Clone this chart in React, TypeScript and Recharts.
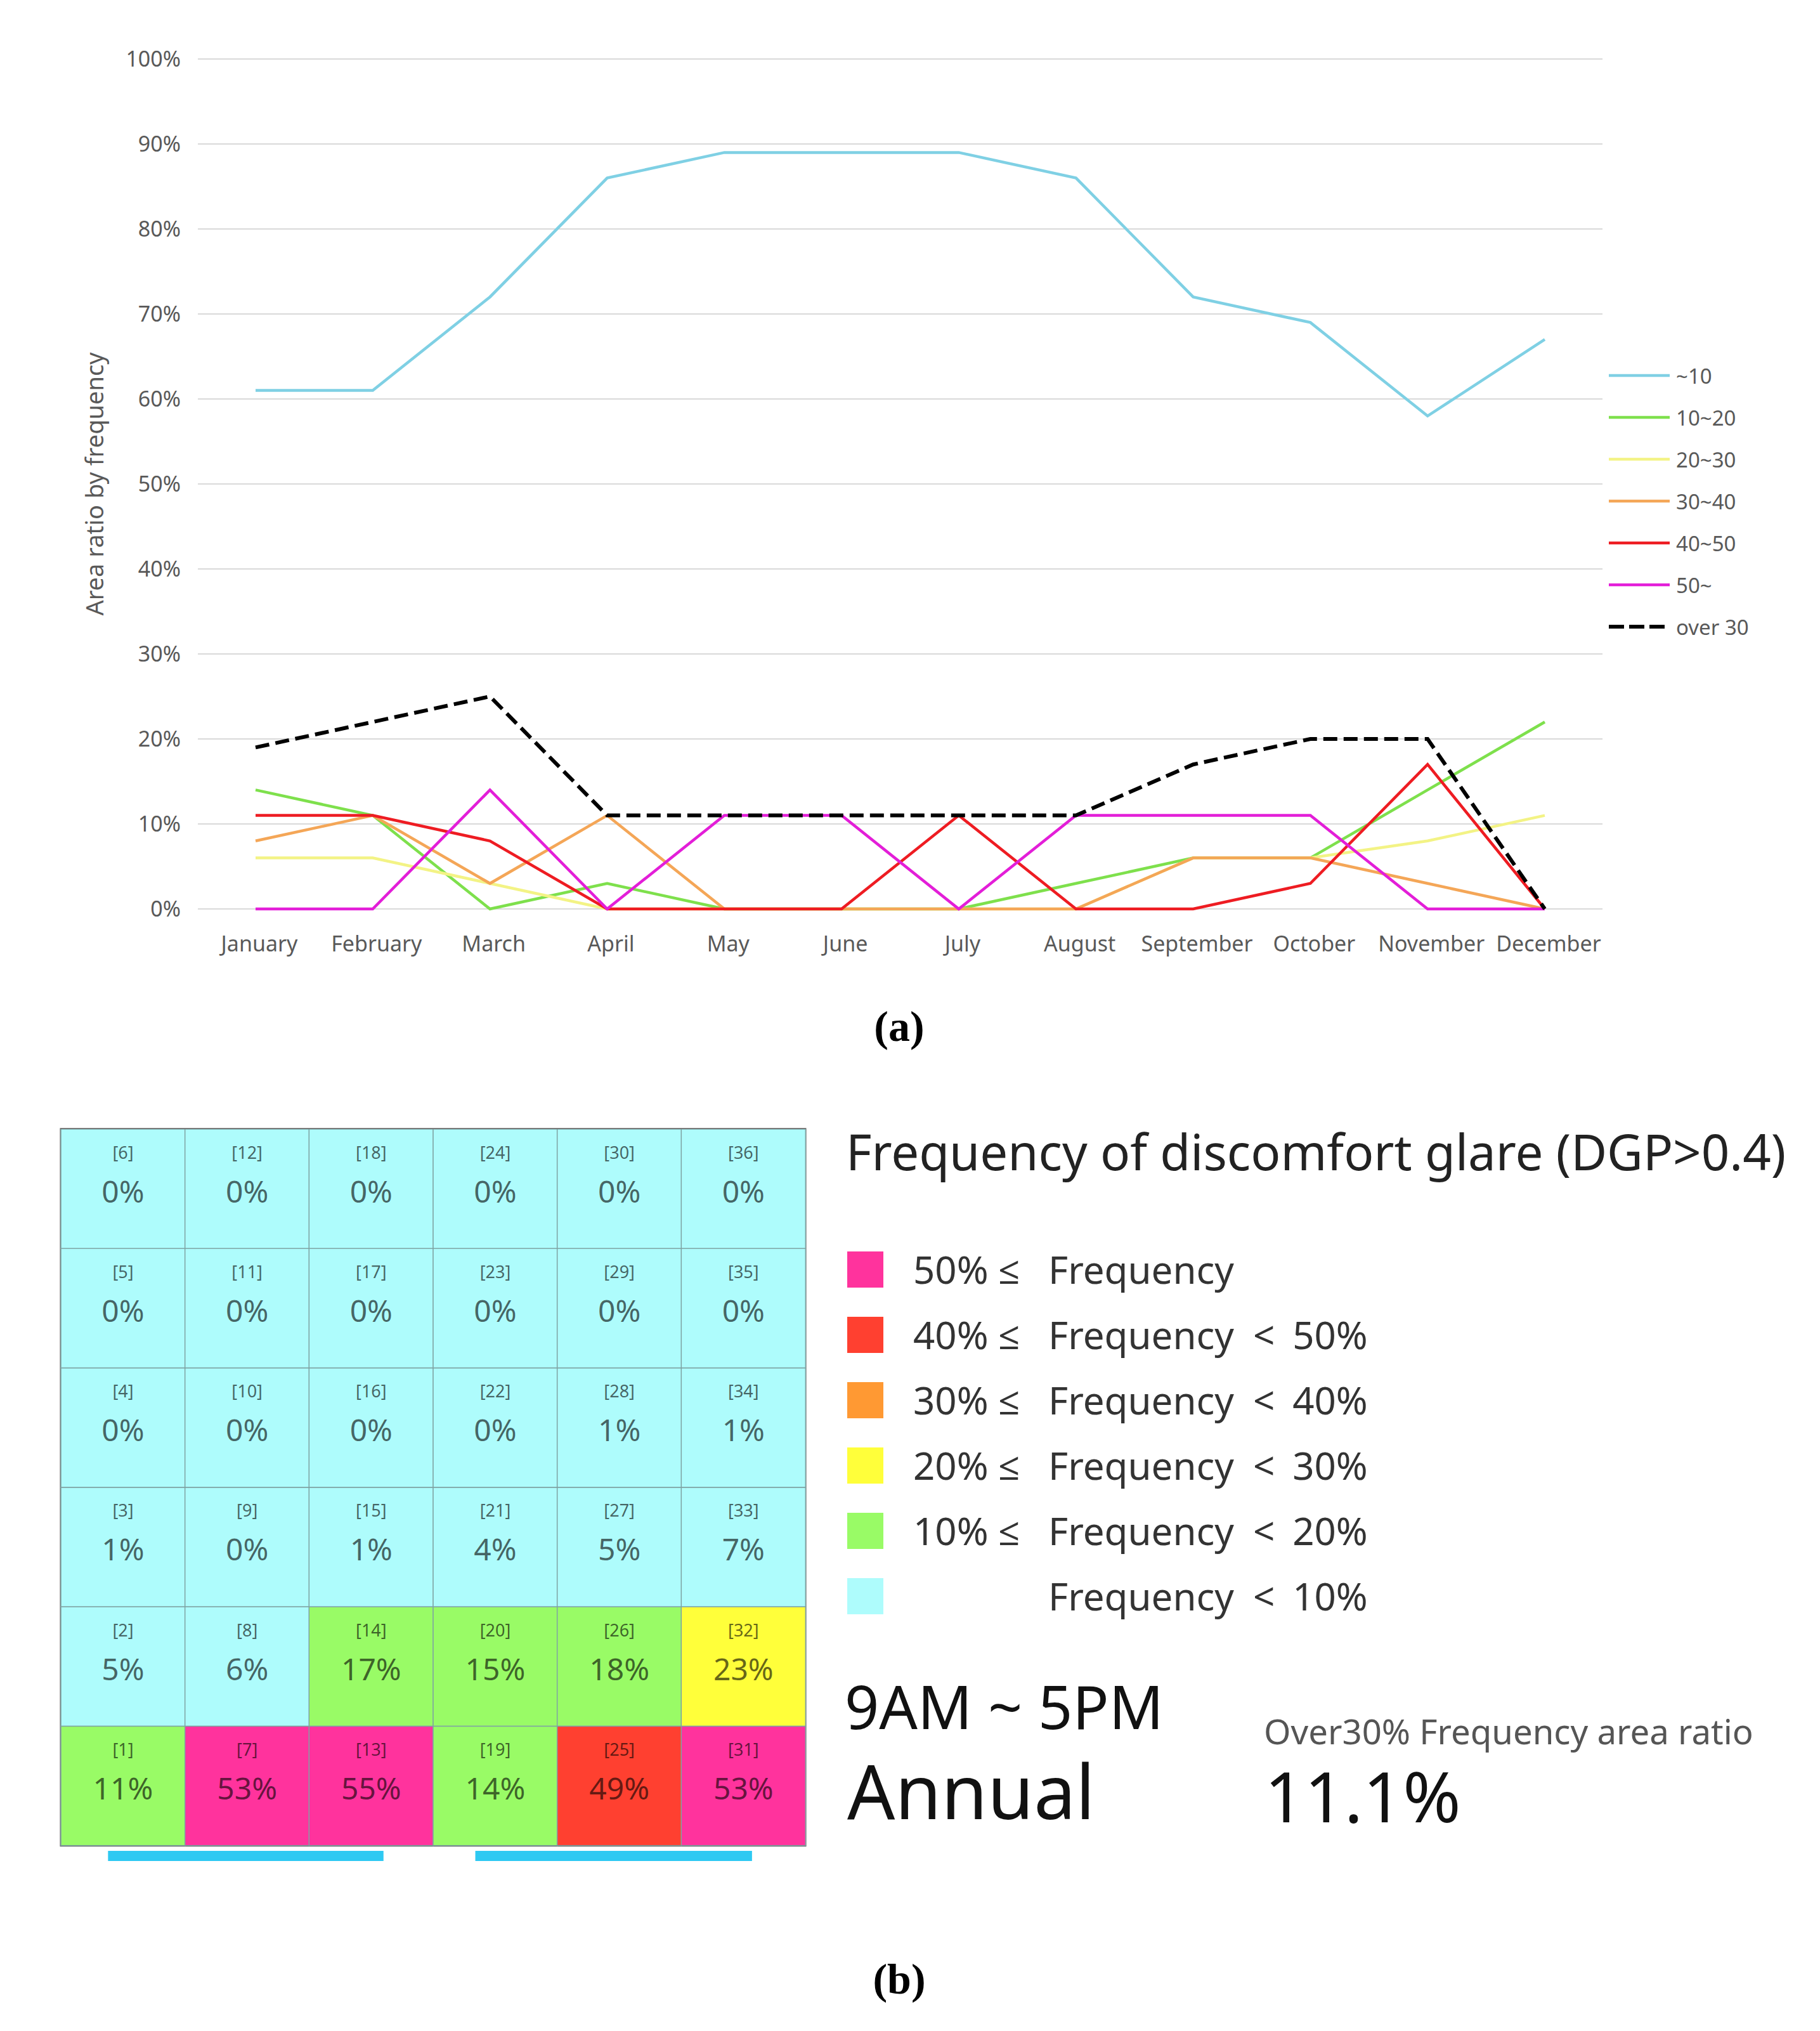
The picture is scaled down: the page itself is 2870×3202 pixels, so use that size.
import React from "react";
import {
  Bar,
  BarChart,
  CartesianGrid,
  Label,
  Legend,
  Line,
  LineChart,
  ReferenceArea,
  XAxis,
  YAxis,
} from "recharts";

const FONT = "'Noto Sans', 'Open Sans', sans-serif";
const SERIF = "'Liberation Serif', 'DejaVu Serif', serif";

// ---- (a) monthly area ratio by glare frequency (%) ----
const MONTHS = [
  "January", "February", "March", "April", "May", "June",
  "July", "August", "September", "October", "November", "December",
];
const UNDER_10 = [61, 61, 72, 86, 89, 89, 89, 86, 72, 69, 58, 67];
const F10_20 = [14, 11, 0, 3, 0, 0, 0, 3, 6, 6, 14, 22];
const F20_30 = [6, 6, 3, 0, 0, 0, 0, 0, 6, 6, 8, 11];
const F30_40 = [8, 11, 3, 11, 0, 0, 0, 0, 6, 6, 3, 0];
const F40_50 = [11, 11, 8, 0, 0, 0, 11, 0, 0, 3, 17, 0];
const F50_UP = [0, 0, 14, 0, 11, 11, 0, 11, 11, 11, 0, 0];
const OVER_30 = [19, 22, 25, 11, 11, 11, 11, 11, 17, 20, 20, 0];
const Y_TICKS = [0, 10, 20, 30, 40, 50, 60, 70, 80, 90, 100];

const SERIES = [
  { key: "u10", name: "~10", color: "#7fd0e4", width: 4.5, dash: undefined as string | undefined },
  { key: "f1020", name: "10~20", color: "#7ee04c", width: 4.5, dash: undefined },
  { key: "f2030", name: "20~30", color: "#f3f385", width: 4.5, dash: undefined },
  { key: "f3040", name: "30~40", color: "#f4a657", width: 4.5, dash: undefined },
  { key: "f4050", name: "40~50", color: "#ee1c22", width: 4.5, dash: undefined },
  { key: "f50", name: "50~", color: "#e31ed8", width: 4.5, dash: undefined },
  { key: "o30", name: "over 30", color: "#000000", width: 6, dash: "22 10" },
];

const lineData = MONTHS.map((m, i) => ({
  month: m,
  u10: UNDER_10[i],
  f1020: F10_20[i],
  f2030: F20_30[i],
  f3040: F30_40[i],
  f4050: F40_50[i],
  f50: F50_UP[i],
  o30: OVER_30[i],
}));

// ---- (b) frequency per grid cell, cell [1]..[36] ----
const CELL_VALUES = [
  11, 5, 1, 0, 0, 0,
  53, 6, 0, 0, 0, 0,
  55, 17, 1, 0, 0, 0,
  14, 15, 4, 0, 0, 0,
  49, 18, 5, 1, 0, 0,
  53, 23, 7, 1, 0, 0,
];
const GRID_COLUMNS = ["c1", "c2", "c3", "c4", "c5", "c6"];
const GRID_ROWS = [0, 1, 2, 3, 4, 5];
const WINDOWS = [
  [0.38, 2.6],
  [3.34, 5.57],
];

const LEVELS = [
  { min: 50, color: "#ff339d", left: "50% ≤", right: "" },
  { min: 40, color: "#ff4030", left: "40% ≤", right: "50%" },
  { min: 30, color: "#ff9933", left: "30% ≤", right: "40%" },
  { min: 20, color: "#ffff3a", left: "20% ≤", right: "30%" },
  { min: 10, color: "#99fb66", left: "10% ≤", right: "20%" },
  { min: -1, color: "#aefcfc", left: "", right: "10%" },
];

const colorFor = (v: number) => LEVELS.find((l) => v >= l.min)!.color;

const gridData = GRID_COLUMNS.map((c, i) => {
  const row: Record<string, number | string> = { col: c, pos: i + 0.5 };
  GRID_ROWS.forEach((r) => (row[`r${r}`] = 1));
  return row;
});

function cellShape(r: number) {
  return (props: any) => {
    const { x, y, width, height, index } = props;
    const n = index * 6 + r;
    const v = CELL_VALUES[n];
    return (
      <g>
        <rect x={x} y={y} width={width} height={height} fill={colorFor(v)} stroke="#7fa3a3" strokeWidth={1.5} />
        <text x={x + width / 2} y={y + 36} textAnchor="middle" dominantBaseline="central" fontSize={27} fontFamily={FONT} fill="#000" fillOpacity={0.62}>
          [{n + 1}]
        </text>
        <text x={x + width / 2} y={y + 97} textAnchor="middle" dominantBaseline="central" fontSize={48} fontFamily={FONT} fill="#000" fillOpacity={0.62}>
          {v}%
        </text>
      </g>
    );
  };
}

function LineLegend() {
  return (
    <div style={{ fontFamily: FONT, fontSize: 33, color: "#595959" }}>
      {SERIES.map((s) => (
        <div key={s.key} style={{ height: 66, display: "flex", alignItems: "center" }}>
          <svg width={100} height={12} style={{ marginRight: 6 }}>
            <line x1={0} y1={6} x2={96} y2={6} stroke={s.color} strokeWidth={s.dash ? 6 : 4.5} strokeDasharray={s.dash ? "24 8" : undefined} />
          </svg>
          <span>{s.name}</span>
        </div>
      ))}
    </div>
  );
}

const caption = (top: number, text: string) => (
  <div style={{ position: "absolute", left: 0, width: 2836, top, textAlign: "center", fontFamily: SERIF, fontWeight: "bold", fontSize: 68, lineHeight: 1 }}>
    {text}
  </div>
);

export default function App() {
  return (
    <div style={{ position: "absolute", left: 0, top: 0, width: 2870, height: 3202, background: "#fff" }}>
      <div style={{ position: "absolute", left: 0, top: 0 }}>
        <LineChart width={2870} height={1560} data={lineData} margin={{ top: 93, right: 343, bottom: 0, left: 0 }}>
          <CartesianGrid vertical={false} stroke="#d9d9d9" strokeWidth={2} />
          <XAxis
            dataKey="month"
            height={127}
            padding={{ left: 91, right: 91 }}
            axisLine={false}
            tickLine={false}
            tickMargin={37}
            interval={0}
            tick={{ fontSize: 34, fill: "#595959", fontFamily: FONT, dx: 6 }}
          />
          <YAxis
            width={312}
            domain={[0, 100]}
            ticks={Y_TICKS}
            tickFormatter={(v) => `${v}%`}
            axisLine={false}
            tickLine={false}
            tickMargin={21}
            tick={{ fontSize: 34, fill: "#595959", fontFamily: FONT }}
          >
            <Label
              content={(p: any) => {
                const vb = p.viewBox || { x: 0, y: 93, height: 1340 };
                const cx = vb.x + 148;
                const cy = vb.y + vb.height / 2;
                return (
                  <text x={cx} y={cy} transform={`rotate(-90 ${cx} ${cy})`} textAnchor="middle" dominantBaseline="central" fontSize={38} fill="#595959" fontFamily={FONT}>
                    Area ratio by frequency
                  </text>
                );
              }}
            />
          </YAxis>
          <Legend
            layout="vertical"
            align="center"
            verticalAlign="middle"
            wrapperStyle={{ left: 2537, top: 559, width: 320 }}
            content={() => <LineLegend />}
          />
          {SERIES.map((s) => (
            <Line
              key={s.key}
              type="linear"
              dataKey={s.key}
              name={s.name}
              stroke={s.color}
              strokeWidth={s.width}
              strokeDasharray={s.dash}
              dot={false}
              activeDot={false}
              isAnimationActive={false}
            />
          ))}
        </LineChart>
      </div>

      {caption(1584, "(a)")}

      <div style={{ position: "absolute", left: 0, top: 1700 }}>
        <BarChart width={1300} height={1300} data={gridData} barCategoryGap={0} margin={{ top: 80, right: 30, bottom: 64, left: 96 }}>
          <XAxis dataKey="col" hide />
          <XAxis xAxisId="pos" dataKey="pos" type="number" domain={[0, 6]} allowDataOverflow hide />
          <YAxis type="number" domain={[-0.14, 6]} allowDataOverflow hide />
          {GRID_ROWS.map((r) => (
            <Bar key={r} dataKey={`r${r}`} stackId="grid" shape={cellShape(r)} isAnimationActive={false} />
          ))}
          {WINDOWS.map(([a, b], i) => (
            <ReferenceArea key={i} xAxisId="pos" x1={a} x2={b} y1={-0.13} y2={-0.045} fill="#2ec9f2" fillOpacity={1} stroke="none" ifOverflow="visible" />
          ))}
          <ReferenceArea xAxisId="pos" x1={0} x2={6} y1={0} y2={6} fill="none" fillOpacity={0} stroke="#5a5a5a" strokeWidth={3} ifOverflow="visible" />
        </BarChart>
      </div>

      <div style={{ position: "absolute", left: 1334, top: 1776, fontFamily: FONT, fontSize: 78, lineHeight: 1, color: "#222", whiteSpace: "nowrap" }}>
        Frequency of discomfort glare (DGP&gt;0.4)
      </div>
      {LEVELS.map((l, i) => {
        const cy = 2001 + i * 103;
        return (
          <div key={i} style={{ position: "absolute", left: 1336, top: cy - 31, height: 62, display: "flex", alignItems: "center", fontFamily: FONT, fontSize: 60, color: "#333", whiteSpace: "nowrap" }}>
            <div style={{ width: 57, height: 57, background: l.color, marginRight: 47 }} />
            <span style={{ display: "inline-block", width: 213 }}>{l.left}</span>
            <span>Frequency</span>
            {l.right && <span style={{ marginLeft: 30 }}>&lt;</span>}
            {l.right && <span style={{ marginLeft: 28 }}>{l.right}</span>}
          </div>
        );
      })}

      <div style={{ position: "absolute", left: 1332, top: 2642, fontFamily: FONT, fontSize: 95, lineHeight: 1, color: "#111", whiteSpace: "nowrap" }}>
        9AM ~ 5PM
      </div>
      <div style={{ position: "absolute", left: 1336, top: 2764, fontFamily: FONT, fontSize: 118, lineHeight: 1, color: "#111" }}>
        Annual
      </div>
      <div style={{ position: "absolute", left: 1993, top: 2702, fontFamily: FONT, fontSize: 54.5, lineHeight: 1, color: "#555", whiteSpace: "nowrap" }}>
        Over30% Frequency area ratio
      </div>
      <div style={{ position: "absolute", left: 1994, top: 2775, fontFamily: FONT, fontSize: 110, lineHeight: 1, color: "#111" }}>
        11.1%
      </div>

      {caption(3086, "(b)")}
    </div>
  );
}
